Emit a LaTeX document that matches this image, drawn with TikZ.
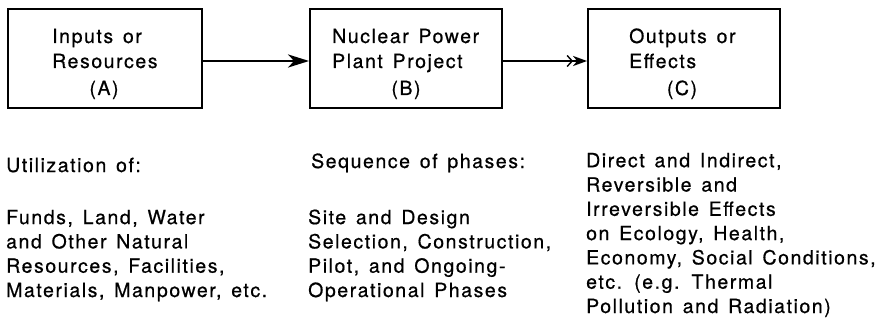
\documentclass[tikz,border=0pt]{standalone}
\usepackage{fontspec}
\setmainfont{TeX Gyre Heros}[LetterSpace=8,WordSpace=1.4,FakeBold=0.6]
\usetikzlibrary{arrows.meta}
\begin{document}
\begin{tikzpicture}[x=1pt,y=-1pt,
  stage/.style={draw,line width=1.8pt,rectangle,inner sep=0pt},
  % multi-line text: the base anchor sits on the last line's baseline
  txt/.style={inner sep=0pt,anchor=base west,align=left,
    font=\fontsize{19.5}{24.3}\selectfont},
  title/.style={txt,font=\fontsize{19.5}{25}\selectfont},
  tag/.style={inner sep=0pt,anchor=base,font=\fontsize{19.5}{24.3}\selectfont}]
\useasboundingbox (0,0) rectangle (884,321);
% the three stages
\node[stage,minimum width=194pt,minimum height=99pt] (A) at (105,58.5) {};
\node[stage,minimum width=192pt,minimum height=99pt] (B) at (406,58.5) {};
\node[stage,minimum width=192pt,minimum height=99pt] (C) at (684,58.5) {};
% titles inside the stages
\node[title] (Atitle) at (52,68) {Inputs or\\Resources};
\node[tag] (Atag) at (104,95) {(A)};
\node[title] (Btitle) at (332,68) {Nuclear Power\\Plant Project};
\node[tag] (Btag) at (406,95) {(B)};
\node[title] (Ctitle) at (629,68) {Outputs or\\Effects};
\node[tag] (Ctag) at (682,95) {(C)};
% connectors
\draw[line width=2.8pt,-{Stealth[length=21pt,width=13pt,inset=6pt]}]
  (A.east |- 0,61) -- (B.west |- 0,61);
\draw[line width=2pt,-{Straight Barb[length=5pt,width=11pt,line width=1.4pt] Stealth[length=14pt,width=10pt,inset=4pt]}]
  (B.east |- 0,61) -- (C.west |- 0,61);
% descriptions under the stages
\node[txt] (Ahead) at (6,172) {Utilization of:};
\node[txt] (Abody) at (6,297) {Funds, Land, Water\\and Other Natural\\Resources, Facilities,\\Materials, Manpower, etc.};
\node[txt] (Bhead) at (311,168) {Sequence of phases:};
\node[txt] (Bbody) at (308,297) {Site and Design\\Selection, Construction,\\Pilot, and Ongoing-\\Operational Phases};
\node[txt] (Cbody) at (586,313) {Direct and Indirect,\\Reversible and\\Irreversible Effects\\on Ecology, Health,\\Economy, Social Conditions,\\etc. (e.g. Thermal\\Pollution and Radiation)};
\end{tikzpicture}
\end{document}
